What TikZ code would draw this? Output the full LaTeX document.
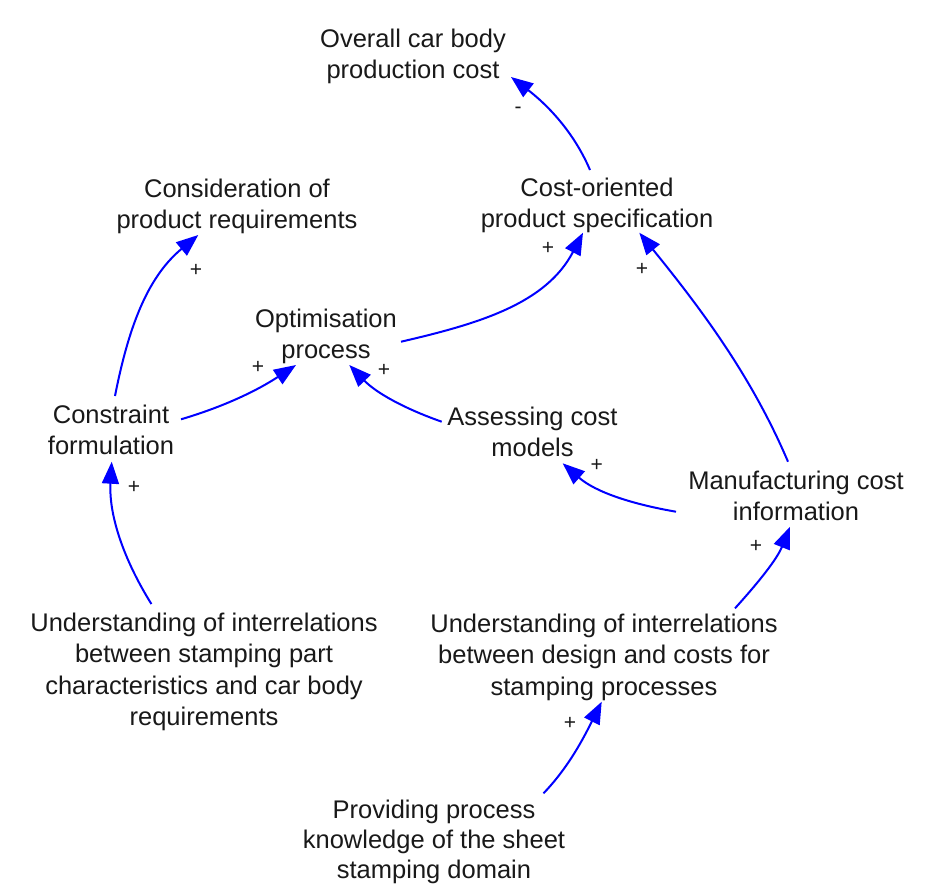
\documentclass[tikz,border=0pt]{standalone}
\usepackage{fontspec}
\setmainfont{Liberation Sans}
\usetikzlibrary{arrows.meta}
\begin{document}
\begin{tikzpicture}[x=1pt,y=-1pt,
  lbl/.style={font=\fontsize{25.5}{31.5}\selectfont, align=center, inner sep=0pt, text=black!90},
  sgn/.style={font=\fontsize{21}{24}\selectfont, inner sep=0pt, text=black!90},
  conn/.style={draw=blue, line width=2pt, -{Triangle[length=22pt,width=17pt]}, fill=none}]
\useasboundingbox (0,0) rectangle (928,884);
\fill[white] (0,0) rectangle (928,884);
% nodes
\node[lbl] (over)   at (413,56.3)  {Overall car body\\production cost};
\node[lbl] (cost)   at (597,205.3) {Cost-oriented\\product specification};
\node[lbl] (cons)   at (237,206.3) {Consideration of\\product requirements};
\node[lbl] (opt)    at (326,336.3) {Optimisation\\process};
\node[lbl] (constr) at (111,429.7) {Constraint\\formulation};
\node[lbl] (assess) at (532.5,431.7) {Assessing cost\\models};
\node[lbl] (manuf)  at (796,495.7) {Manufacturing cost\\information};
\node[lbl] (undL)   at (204,671.8) {Understanding of interrelations\\between stamping part\\characteristics and car body\\requirements};
\node[lbl] (undR)   at (604,657)   {Understanding of interrelations\\between design and costs for\\stamping processes};
\node[lbl, font=\fontsize{25.5}{30}\selectfont] (prov) at (434,841.5) {Providing process\\knowledge of the sheet\\stamping domain};
% connectors
\draw[conn] ([shift={(-7,-35.3)}]cost.center) .. controls +(-17,-40) and +(34,26) .. ([shift={(98,20.7)}]over.center);
\draw[conn] ([shift={(75,5.4)}]opt.center) .. controls +(78,-18) and +(-37,71) .. ([shift={(-14,27.4)}]cost.center);
\draw[conn] ([shift={(-8,-34)}]manuf.center) .. controls +(-37,-87) and +(60,74) .. ([shift={(42.3,27.4)}]cost.center);
\draw[conn] ([shift={(4,-33.7)}]constr.center) .. controls +(13,-66) and +(-52,43) .. ([shift={(-38.7,28.7)}]cons.center);
\draw[conn] ([shift={(70,-10.4)}]constr.center) .. controls +(44,-13) and +(-38,25) .. ([shift={(-30,28.7)}]opt.center);
\draw[conn] ([shift={(-90.8,-10)}]assess.center) .. controls +(-37,-13) and +(27,28) .. ([shift={(23.3,28.7)}]opt.center);
\draw[conn] ([shift={(-120,16)}]manuf.center) .. controls +(-43.5,-7.5) and +(33,29) .. ([shift={(30.2,31.6)}]assess.center);
\draw[conn] ([shift={(-52.6,-67.8)}]undL.center) .. controls +(-28,-45) and +(-3,53) .. ([shift={(0.7,32)}]constr.center);
\draw[conn] ([shift={(131,-48.7)}]undR.center) .. controls +(23.5,-26) and +(-13,32.5) .. ([shift={(-6,31)}]manuf.center);
\draw[conn] ([shift={(109.5,-48.2)}]prov.center) .. controls +(26,-27) and +(-17,34) .. ([shift={(-2.3,44.7)}]undR.center);
% polarity signs
\node[sgn] (s1)  at (518,110) {-};
\node[sgn] (s2)  at (548,248) {+};
\node[sgn] (s3)  at (642,269) {+};
\node[sgn] (s4)  at (196,270) {+};
\node[sgn] (s5)  at (258,367) {+};
\node[sgn] (s6)  at (384,370) {+};
\node[sgn] (s7)  at (596.7,465) {+};
\node[sgn] (s8)  at (134,487) {+};
\node[sgn] (s9)  at (756,546.7) {+};
\node[sgn] (s10) at (570,723) {+};
\end{tikzpicture}
\end{document}
